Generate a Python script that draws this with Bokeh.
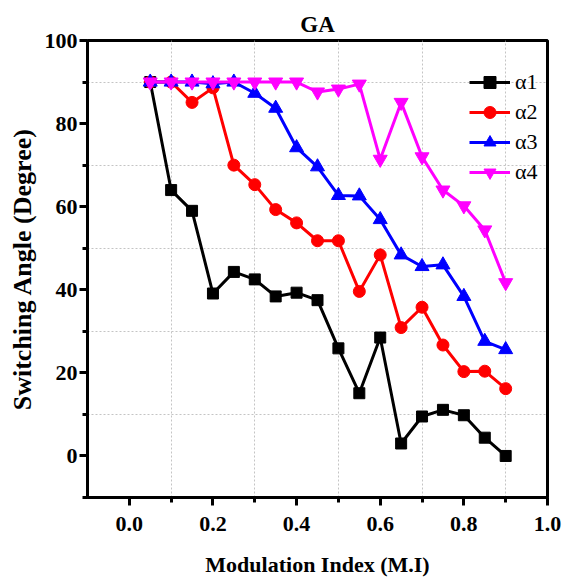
from bokeh.plotting import figure
from bokeh.models import FixedTicker, Range1d, Legend
from bokeh.embed import file_html
from bokeh.resources import INLINE

# ---- data ----
mi = [0.05, 0.10, 0.15, 0.20, 0.25, 0.30, 0.35, 0.40, 0.45,
      0.50, 0.55, 0.60, 0.65, 0.70, 0.75, 0.80, 0.85, 0.90]
alpha1 = [90.0, 64.0, 59.0, 39.1, 44.3, 42.5, 38.4, 39.3, 37.5,
          25.9, 15.1, 28.5, 3.0, 9.5, 11.1, 9.8, 4.4, 0.0]
alpha2 = [90.0, 90.0, 85.1, 88.6, 70.0, 65.3, 59.3, 56.1, 51.8,
          51.8, 39.6, 48.4, 30.9, 35.8, 26.7, 20.3, 20.4, 16.2]
alpha3 = [90.0, 90.0, 90.0, 89.6, 90.0, 87.3, 83.7, 74.2, 69.6,
          62.7, 62.6, 56.9, 48.4, 45.6, 46.0, 38.4, 27.6, 25.6]
alpha4 = [90.0, 90.0, 90.0, 90.0, 90.0, 90.0, 90.0, 90.0, 87.6,
          88.3, 89.5, 71.4, 85.1, 72.0, 64.0, 60.2, 54.4, 41.7]
series_names = ["α1", "α2", "α3", "α4"]
x_major = [0.0, 0.2, 0.4, 0.6, 0.8, 1.0]
x_minor = [0.1, 0.3, 0.5, 0.7, 0.9]
y_major = [0, 20, 40, 60, 80, 100]
y_minor = [-10, 10, 30, 50, 70, 90]

FONT = "Liberation Serif"

p = figure(width=569, height=585, output_backend="svg", toolbar_location=None,
           x_range=Range1d(-0.1, 1.0), y_range=Range1d(-10, 100),
           min_border_left=87, min_border_right=22, min_border_top=40,
           min_border_bottom=88, title="GA")

p.title.align = "center"
p.title.text_font = FONT
p.title.text_font_size = "23px"
p.title.text_font_style = "bold"
p.title.text_color = "black"
p.title.standoff = 8

p.outline_line_color = "black"
p.outline_line_width = 3
p.outline_line_alpha = 1.0

for ax, ticks, minor in ((p.xaxis[0], x_major, x_minor), (p.yaxis[0], y_major, y_minor)):
    ax.ticker = FixedTicker(ticks=ticks, minor_ticks=minor)
    ax.axis_line_width = 3
    ax.axis_line_color = "black"
    ax.major_tick_line_width = 3
    ax.minor_tick_line_width = 3
    ax.major_tick_out = 8
    ax.major_tick_in = 0
    ax.minor_tick_out = 5
    ax.minor_tick_in = 0
    ax.major_label_text_font = FONT
    ax.major_label_text_font_style = "bold"
    ax.major_label_text_font_size = "22px"
    ax.major_label_text_color = "black"
    ax.axis_label_text_font = FONT
    ax.axis_label_text_font_style = "bold"
    ax.axis_label_text_color = "black"

p.xaxis[0].major_label_overrides = {t: f"{t:.1f}" for t in x_major}
p.yaxis[0].major_label_overrides = {t: f"{t:d}" for t in y_major}
p.xaxis[0].axis_label = "Modulation Index (M.I)"
p.yaxis[0].axis_label = "Switching Angle (Degree)"
p.xaxis[0].axis_label_text_font_size = "22px"
p.yaxis[0].axis_label_text_font_size = "26px"
p.xaxis[0].major_label_standoff = 11
p.yaxis[0].major_label_standoff = 2
p.xaxis[0].axis_label_standoff = 18
p.yaxis[0].axis_label_standoff = 5

p.xgrid.ticker = FixedTicker(ticks=x_minor)
p.ygrid.ticker = FixedTicker(ticks=y_minor[1:])
for g in (p.xgrid[0], p.ygrid[0]):
    g.grid_line_color = "#c4c4c4"
    g.grid_line_dash = "2 2"
    g.grid_line_width = 1

colors = ["black", "#ff0000", "#0000ff", "#ff00ff"]
markers = ["square", "circle", "triangle", "inverted_triangle"]
sizes = [11, 12, 14, 14]
items = []
for name, ys, c, m, s in zip(series_names, [alpha1, alpha2, alpha3, alpha4], colors, markers, sizes):
    r1 = p.line(mi, ys, line_color=c, line_width=3)
    r2 = p.scatter(mi, ys, marker=m, size=s, fill_color=c, line_color=c)
    items.append((name, [r1, r2]))

legend = Legend(items=items, location=(382, 310))
legend.background_fill_alpha = 0
legend.border_line_alpha = 0
legend.margin = 0
legend.padding = 0
legend.spacing = 0
legend.glyph_width = 41
legend.glyph_height = 30
legend.label_height = 30
legend.label_standoff = 5
legend.label_text_font = FONT
legend.label_text_font_size = "22px"
legend.label_text_color = "black"
p.add_layout(legend)

open("out.html", "w").write(file_html(p, INLINE))
